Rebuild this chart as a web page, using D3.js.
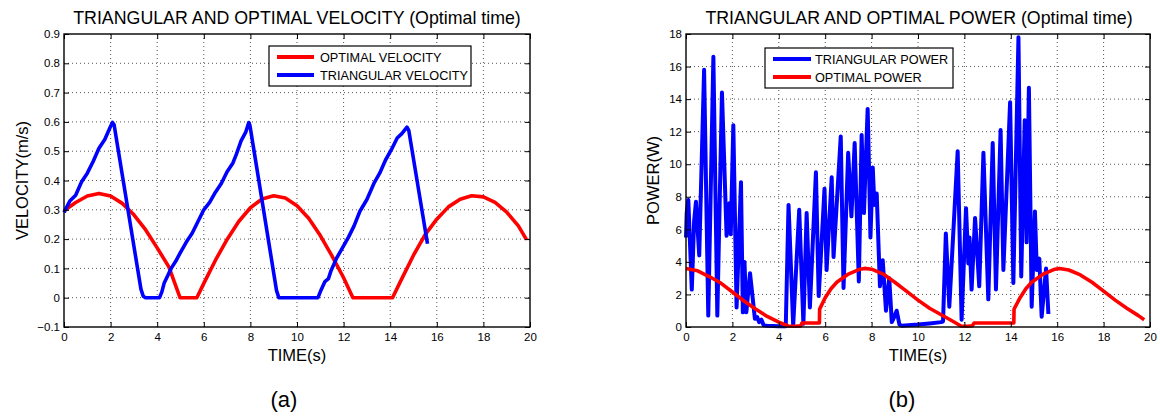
<!DOCTYPE html>
<html><head><meta charset="utf-8">
<script src="https://cdn.jsdelivr.net/npm/d3@7"></script>
<style>
html,body{margin:0;padding:0;background:#fff;}
svg{display:block;}
text{font-family:"Liberation Sans",Arial,Helvetica,sans-serif;fill:#000;}
</style></head>
<body>
<svg id="chart" width="1160" height="419"></svg>
<script>
// ---------- DATA ----------
const xTicks = [0,2,4,6,8,10,12,14,16,18,20];
const velTicks = [-0.1,0,0.1,0.2,0.3,0.4,0.5,0.6,0.7,0.8,0.9];
const velTickLabels = ["\u22120.1","0","0.1","0.2","0.3","0.4","0.5","0.6","0.7","0.8","0.9"];
const powTicks = [0,2,4,6,8,10,12,14,16,18];

// Optimal velocity (red)
const optVelTime = [0,0.5,1.0,1.5,2.0,2.5,3.0,3.5,4.0,4.5,4.98,5.7,6.0,6.5,7.0,7.5,8.0,8.5,9.0,9.5,10.0,10.5,11.0,11.5,12.0,12.4,14.1,14.5,15.0,15.5,16.0,16.5,17.0,17.5,18.0,18.5,19.0,19.5,19.85];
const optVel = [0.297,0.325,0.347,0.356,0.347,0.322,0.283,0.232,0.170,0.105,0,0,0.049,0.128,0.199,0.260,0.307,0.337,0.348,0.340,0.314,0.271,0.212,0.143,0.068,0,0,0.065,0.145,0.215,0.268,0.310,0.336,0.348,0.344,0.325,0.292,0.245,0.198];

// Triangular velocity (blue)
const triVelTime = [0,0.25,0.5,0.75,1.0,1.25,1.5,1.75,2.0,2.08,2.15,3.3,3.4,3.5,4.1,4.2,4.3,4.45,4.6,4.8,5.0,5.25,5.5,5.75,6.0,6.25,6.5,6.75,7.0,7.25,7.4,7.6,7.8,7.93,7.98,9.12,9.22,10.9,11.0,11.2,11.35,11.45,11.7,11.95,12.2,12.45,12.7,13.0,13.3,13.55,13.8,14.05,14.3,14.5,14.72,14.8,15.6];
const triVel = [0.291,0.33,0.35,0.395,0.425,0.465,0.51,0.54,0.585,0.598,0.59,0.03,0.005,0,0,0.02,0.05,0.075,0.1,0.125,0.155,0.19,0.22,0.26,0.30,0.325,0.36,0.39,0.43,0.46,0.49,0.535,0.565,0.598,0.588,0.025,0,0,0.02,0.055,0.065,0.09,0.135,0.17,0.205,0.245,0.295,0.335,0.39,0.425,0.47,0.505,0.545,0.56,0.582,0.57,0.184];

// Triangular power (blue)
const triPowTime = [0.00,0.03,0.10,0.25,0.35,0.43,0.57,0.78,0.96,1.18,1.35,1.55,1.75,1.87,1.93,2.04,2.18,2.37,2.45,2.52,2.6,2.76,2.97,3.07,3.15,3.25,3.35,3.5,4.0,4.3,
 4.42,4.62,4.88,5.06,5.2,5.34,5.6,5.72,5.97,6.06,6.28,6.36,6.67,6.79,6.99,7.13,7.27,7.45,7.57,7.67,7.83,7.9,7.95,8.05,8.12,8.22,8.36,8.48,8.62,8.76,8.87,8.94,9.08,9.2,9.3,10.0,10.5,11.0,11.08,
 11.2,11.35,11.71,11.88,12.07,12.17,12.22,12.31,12.46,12.64,12.82,13.03,13.22,13.36,13.56,13.68,13.97,14.11,14.33,14.45,14.6,14.68,14.78,14.9,15.04,15.12,15.23,15.33,15.52,15.62];
const triPow = [5.5,7.0,7.8,2.3,6.5,7.7,4.4,15.8,0.7,16.6,0.7,14.4,5.6,7.6,5.7,12.4,1.2,8.9,0.9,4.0,0.9,3.3,0.5,0.6,0.3,0.45,0.1,0.08,0.05,0.05,
 7.5,0.1,7.2,0.2,7.0,1.2,9.5,1.9,8.5,3.5,9.2,4.3,11.7,2.4,10.7,6.8,11.3,2.8,11.8,7.0,13.4,9.0,5.5,9.8,7.5,8.2,2.5,4.1,1.0,3.0,0.3,0.5,1.0,0.15,0.08,0.15,0.22,0.3,0.35,
 5.75,1.25,10.8,0.45,7.3,3.9,5.5,2.3,6.7,2.5,10.7,1.7,11.3,2.3,12.1,3.5,13.8,2.7,17.8,3.1,12.7,5.2,14.7,1.25,7.1,3.5,4.2,0.63,3.6,0.8];

// Optimal power (red)
const optPowTime = [0,0.5,1.0,1.5,2.0,2.5,3.0,3.5,4.0,4.4,4.7,4.95,5.0,5.75,5.76,6.0,6.25,6.5,7.0,7.5,7.7,8.0,8.5,9.0,9.5,10.0,10.5,11.0,11.5,11.85,12.1,12.35,12.42,14.13,14.14,14.4,14.65,14.9,15.4,15.9,16.1,16.5,17.0,17.5,18.0,18.5,19.0,19.5,19.75];
const optPow = [3.6,3.45,3.1,2.7,2.15,1.6,1.1,0.65,0.3,0.06,0.05,0.07,0.25,0.25,1.1,1.8,2.35,2.75,3.25,3.55,3.6,3.55,3.25,2.75,2.2,1.65,1.15,0.75,0.35,0.06,0.05,0.08,0.25,0.25,1.1,1.8,2.35,2.75,3.25,3.55,3.6,3.5,3.2,2.75,2.2,1.65,1.15,0.7,0.45];

// ---------- DRAW ----------
const svg = d3.select("#chart");
const BLUE = "#0000ff", RED = "#ff0000";

function panel(cfg){
  const {x, y, yTicks, yLabels, title, titleX, ylabel, ylabelX, series, legend} = cfg;
  const g = svg.append("g");
  const [x0,x1] = x.range(), [y0,y1] = y.range(); // y0 bottom, y1 top
  // grid
  const grid = g.append("g").attr("stroke","#555").attr("stroke-width",1).attr("stroke-dasharray","1,3");
  xTicks.slice(1,-1).forEach(t => grid.append("line").attr("x1",x(t)).attr("x2",x(t)).attr("y1",y0).attr("y2",y1));
  yTicks.forEach(t => { if (y(t) < y0-1 && y(t) > y1+1) grid.append("line").attr("x1",x0).attr("x2",x1).attr("y1",y(t)).attr("y2",y(t)); });

  // series
  const line = d3.line().x(d=>x(d[0])).y(d=>y(d[1]));
  series.forEach(s => {
    g.append("path").datum(s.t.map((t,i)=>[t,s.v[i]]))
      .attr("d",line).attr("fill","none").attr("stroke",s.color)
      .attr("stroke-width",s.w).attr("stroke-linejoin","round").attr("stroke-linecap","butt");
  });

  // axes (ticks inward)
  const fs = "11.5px";
  const ab = g.append("g").attr("transform",`translate(0,${y0})`)
    .call(d3.axisBottom(x).tickValues(xTicks).tickSize(-5).tickPadding(6).tickFormat(d3.format("d")));
  const at = g.append("g").attr("transform",`translate(0,${y1})`)
    .call(d3.axisTop(x).tickValues(xTicks).tickSize(-5).tickFormat(""));
  const al = g.append("g").attr("transform",`translate(${x0},0)`)
    .call(d3.axisLeft(y).tickValues(yTicks).tickSize(-5).tickPadding(4).tickFormat((d,i)=>yLabels[i]));
  const ar = g.append("g").attr("transform",`translate(${x1},0)`)
    .call(d3.axisRight(y).tickValues(yTicks).tickSize(-5).tickFormat(""));
  [ab,at,al,ar].forEach(a => {
    a.select(".domain").remove();
    a.selectAll("line").attr("stroke","#000").attr("stroke-width",1);
    a.selectAll("text").attr("font-size",fs).attr("font-family",'"Liberation Sans",Arial,sans-serif').attr("fill","#000");
  });
  g.append("rect").attr("x",x0).attr("y",y1).attr("width",x1-x0).attr("height",y0-y1)
    .attr("fill","none").attr("stroke","#000").attr("stroke-width",1.4);

  // title & labels
  g.append("text").attr("x",titleX).attr("y",23.5).attr("text-anchor","middle").attr("font-size","17.8px").text(title);
  g.append("text").attr("x",(x0+x1)/2).attr("y",361).attr("text-anchor","middle").attr("font-size","16.5px").text("TIME(s)");
  g.append("text").attr("transform",`translate(${ylabelX},${(y0+y1)/2}) rotate(-90)`).attr("text-anchor","middle").attr("font-size","16.5px").text(ylabel);

  // legend
  const L = legend;
  g.append("rect").attr("x",L.x).attr("y",L.y).attr("width",L.w).attr("height",L.h).attr("fill","#fff").attr("stroke","#000").attr("stroke-width",1.2);
  L.items.forEach((it,i) => {
    const yy = L.rows[i];
    g.append("line").attr("x1",L.lx0).attr("x2",L.lx1).attr("y1",yy).attr("y2",yy).attr("stroke",it.color).attr("stroke-width",4);
    g.append("text").attr("x",L.tx).attr("y",yy).attr("dy","0.36em").attr("font-size","12.7px").text(it.label);
  });
}

const xL = d3.scaleLinear().domain([0,20]).range([64,530]);
const yL = d3.scaleLinear().domain([-0.1,0.9]).range([327,34]);
panel({
  x:xL, y:yL, yTicks:velTicks, yLabels:velTickLabels,
  title:"TRIANGULAR AND OPTIMAL VELOCITY (Optimal time)", titleX:297,
  ylabel:"VELOCITY(m/s)", ylabelX:27.5,
  series:[
    {t:optVelTime, v:optVel, color:RED, w:3.6},
    {t:triVelTime, v:triVel, color:BLUE, w:3.6}
  ],
  legend:{x:269,y:46,w:202,h:40,rows:[57,75],lx0:277,lx1:314,tx:320,
    items:[{label:"OPTIMAL VELOCITY",color:RED},{label:"TRIANGULAR VELOCITY",color:BLUE}]}
});

const xR = d3.scaleLinear().domain([0,20]).range([686,1150]);
const yR = d3.scaleLinear().domain([0,18]).range([327,34]);
panel({
  x:xR, y:yR, yTicks:powTicks, yLabels:powTicks.map(String),
  title:"TRIANGULAR AND OPTIMAL POWER (Optimal time)", titleX:919,
  ylabel:"POWER(W)", ylabelX:659,
  series:[
    {t:triPowTime, v:triPow, color:BLUE, w:4},
    {t:optPowTime, v:optPow, color:RED, w:3.6}
  ],
  legend:{x:765,y:48,w:188,h:40,rows:[59,77],lx0:773,lx1:811,tx:815,
    items:[{label:"TRIANGULAR POWER",color:BLUE},{label:"OPTIMAL POWER",color:RED}]}
});

// captions
svg.append("text").attr("x",284).attr("y",407).attr("text-anchor","middle")
  .attr("font-family",'"Liberation Serif","DejaVu Serif",serif').attr("font-size","22px").text("(a)");
svg.append("text").attr("x",902).attr("y",407).attr("text-anchor","middle")
  .attr("font-family",'"Liberation Serif","DejaVu Serif",serif').attr("font-size","22px").text("(b)");
</script>
</body></html>
